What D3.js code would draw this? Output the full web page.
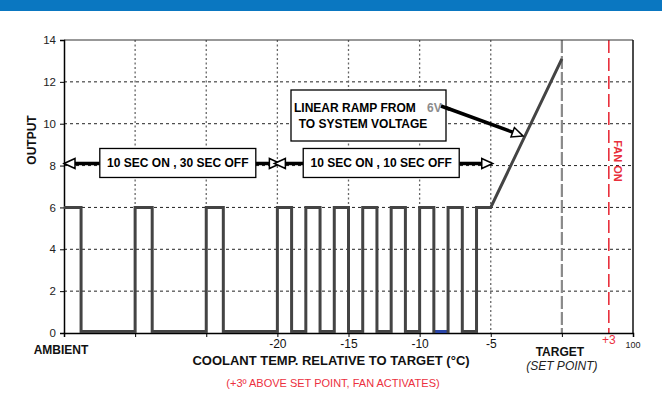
<!DOCTYPE html>
<html>
<head>
<meta charset="utf-8">
<script src="https://cdn.jsdelivr.net/npm/d3@7"></script>
<style>
  html, body { margin: 0; padding: 0; background: #fff; }
  svg { display: block; font-family: Arial, "Liberation Sans", sans-serif; }
</style>
</head>
<body>
<svg id="chart" width="662" height="405"></svg>
<script>
// ---------- data ----------
const yTicks = [0, 2, 4, 6, 8, 10, 12, 14];
const xTicks = [-35, -30, -25, -20, -15, -10, -5, 0, 5];
const xTickLabels = ["", "", "", "-20", "-15", "-10", "-5", "", ""];
const outputLevel = 6;
// 10 s on / 30 s off region
const slowOnStart = [-35, -30, -25];
const slowOnEnd = [-33.8, -28.8, -23.8];
// 10 s on / 10 s off region
const fastOnStart = [-20, -18, -16, -14, -12, -10, -8, -6];
const fastOnEnd = [-19, -17, -15, -13, -11, -9, -7, -5];
// linear ramp
const rampX = [-5, 0];
const rampY = [6, 13.1];
const highlightOff = [-9, -8];       // small blue segment
const targetX = 0;
const fanOnX = 3.3;
const spanArrows = [
  { from: -35, to: -20, y: 8.1, label: "10 SEC ON , 30 SEC OFF", center: -27 },
  { from: -20, to: -5,  y: 8.1, label: "10 SEC ON , 10 SEC OFF", center: -12.7 }
];

// ---------- layout ----------
const svg = d3.select("#chart");
const L = 64, R = 633, T = 40, B = 333;
const x = d3.scaleLinear().domain([-35, 5]).range([L, R]);
const y = d3.scaleLinear().domain([0, 14]).range([B, T]);

// header band
svg.append("rect").attr("x", 0).attr("y", 0).attr("width", 662).attr("height", 11).attr("fill", "#0a77c1");

// horizontal dashed gridlines
svg.append("g").selectAll("line").data(yTicks.filter(d => d > 0 && d < 14)).join("line")
  .attr("x1", L).attr("x2", R).attr("y1", d => y(d)).attr("y2", d => y(d))
  .attr("stroke", "#222").attr("stroke-width", 1).attr("stroke-dasharray", "3,3");

// vertical dotted gridlines
svg.append("g").selectAll("line").data(xTicks.filter(d => d > -35 && d < 0)).join("line")
  .attr("x1", d => x(d)).attr("x2", d => x(d)).attr("y1", T).attr("y2", B)
  .attr("stroke", "#666").attr("stroke-width", 1.3).attr("stroke-dasharray", "2,2.5");

// target line
svg.append("line").attr("x1", x(targetX)).attr("x2", x(targetX)).attr("y1", T).attr("y2", B)
  .attr("stroke", "#8a8a8a").attr("stroke-width", 2.2).attr("stroke-dasharray", "13,3");

// fan-on line
svg.append("line").attr("x1", x(fanOnX)).attr("x2", x(fanOnX)).attr("y1", T).attr("y2", B)
  .attr("stroke", "#e8303c").attr("stroke-width", 1.6).attr("stroke-dasharray", "13,5");

// frame: top and right
svg.append("line").attr("x1", L).attr("x2", R).attr("y1", T).attr("y2", T).attr("stroke", "#333").attr("stroke-width", 1.2);
svg.append("line").attr("x1", R).attr("x2", R).attr("y1", T).attr("y2", B).attr("stroke", "#111").attr("stroke-width", 1.5);

// axes
const yAxis = d3.axisLeft(y).tickValues(yTicks).tickSize(4).tickPadding(4).tickFormat(d3.format("d"));
const gy = svg.append("g").attr("transform", `translate(${L},0)`).call(yAxis);
gy.select(".domain").attr("stroke", "#000").attr("stroke-width", 1.5);
gy.selectAll(".tick line").attr("stroke", "#000");
gy.selectAll("text").attr("font-size", 11.5).attr("fill", "#222").attr("font-family", "Arial, 'Liberation Sans', sans-serif");

const xAxis = d3.axisBottom(x).tickValues(xTicks).tickSize(4).tickPadding(2).tickFormat((d, i) => xTickLabels[i]);
const gx = svg.append("g").attr("transform", `translate(0,${B})`).call(xAxis);
gx.select(".domain").attr("stroke", "#000").attr("stroke-width", 1.5);
gx.selectAll(".tick line").attr("stroke", "#000");
gx.selectAll("text").attr("font-size", 12).attr("fill", "#111").attr("font-family", "Arial, 'Liberation Sans', sans-serif");

// signal path
const pts = [];
slowOnStart.forEach((s, i) => {
  if (i > 0) pts.push([s, 0]);
  pts.push([s, outputLevel], [slowOnEnd[i], outputLevel], [slowOnEnd[i], 0]);
});
fastOnStart.forEach((s, i) => {
  pts.push([s, 0], [s, outputLevel], [fastOnEnd[i], outputLevel]);
  if (i < fastOnStart.length - 1) pts.push([fastOnEnd[i], 0]);
});
pts.push([rampX[0], rampY[0]], [rampX[1], rampY[1]]);
const line = d3.line().x(d => x(d[0])).y(d => y(d[1]) - (d[1] === 0 ? 1.5 : 0));
svg.append("path").attr("d", line(pts)).attr("fill", "none")
  .attr("stroke", "#444").attr("stroke-width", 3).attr("stroke-linejoin", "miter");

// blue segment
svg.append("line").attr("x1", x(highlightOff[0]) + 1.5).attr("x2", x(highlightOff[1]) - 1.5)
  .attr("y1", y(0) - 1.5).attr("y2", y(0) - 1.5).attr("stroke", "#2a45a8").attr("stroke-width", 3);

// ---------- annotations ----------
function arrow(x1, y1, x2, y2) {
  const ang = Math.atan2(y2 - y1, x2 - x1);
  const len = 11, hw = 5;
  const bx = x2 - len * Math.cos(ang), by = y2 - len * Math.sin(ang);
  svg.append("line").attr("x1", x1).attr("y1", y1).attr("x2", bx).attr("y2", by)
    .attr("stroke", "#000").attr("stroke-width", 3.5);
  const px = -Math.sin(ang) * hw, py = Math.cos(ang) * hw;
  svg.append("path")
    .attr("d", `M${x2},${y2}L${bx + px},${by + py}L${bx - px},${by - py}Z`)
    .attr("fill", "#fff").attr("stroke", "#000").attr("stroke-width", 1.5);
}

spanArrows.forEach((a, i) => {
  const cx = x(a.center), cy = y(a.y);
  const w = 156, h = 29;
  const bl = cx - w / 2, br = cx + w / 2;
  const leftTip = i === 0 ? x(a.from) : x(a.from) - 3;
  const rightTip = i === 0 ? x(a.to) + 3 : x(a.to) + 2;
  arrow(bl, cy, leftTip, cy);
  arrow(br, cy, rightTip, cy);
  svg.append("rect").attr("x", bl).attr("y", cy - 15).attr("width", w).attr("height", h)
    .attr("fill", "#fff").attr("stroke", "#000").attr("stroke-width", 1.3);
  svg.append("text").attr("x", cx).attr("y", cy + 4).attr("text-anchor", "middle")
    .attr("font-size", 12).attr("font-weight", "bold").attr("fill", "#000").text(a.label);
});

// ramp annotation
arrow(444, 107, 523, 136);
svg.append("rect").attr("x", 291).attr("y", 90).attr("width", 155).attr("height", 51)
  .attr("fill", "#fff").attr("stroke", "#000").attr("stroke-width", 1.3);
svg.append("text").attr("x", 294).attr("y", 111.5).attr("font-size", 12).attr("font-weight", "bold")
  .text("LINEAR RAMP FROM");
svg.append("text").attr("x", 427).attr("y", 111.5).attr("font-size", 12).attr("font-weight", "bold")
  .attr("fill", "#8c8c8c").text("6V");
svg.append("text").attr("x", 363).attr("y", 127.5).attr("text-anchor", "middle").attr("font-size", 12)
  .attr("font-weight", "bold").text("TO SYSTEM VOLTAGE");
// re-draw arrow start over box edge
svg.append("line").attr("x1", 441).attr("y1", 106).attr("x2", 450).attr("y2", 109.3)
  .attr("stroke", "#000").attr("stroke-width", 3.5);

// texts
svg.append("text").attr("transform", "translate(36,140) rotate(-90)").attr("text-anchor", "middle")
  .attr("font-size", 12).attr("font-weight", "bold").attr("fill", "#111").text("OUTPUT");
svg.append("text").attr("transform", `translate(${x(fanOnX) + 5},161) rotate(90)`).attr("text-anchor", "middle")
  .attr("font-size", 11).attr("font-weight", "bold").attr("fill", "#e8303c").text("FAN ON");
svg.append("text").attr("x", 61).attr("y", 354).attr("text-anchor", "middle").attr("font-size", 12)
  .attr("font-weight", "bold").attr("fill", "#111").text("AMBIENT");
svg.append("text").attr("x", 331).attr("y", 365).attr("text-anchor", "middle").attr("font-size", 13)
  .attr("font-weight", "bold").attr("fill", "#111").text("COOLANT TEMP. RELATIVE TO TARGET (°C)");
svg.append("text").attr("x", 333).attr("y", 387).attr("text-anchor", "middle").attr("font-size", 11)
  .attr("fill", "#ec3040").text("(+3º ABOVE SET POINT, FAN ACTIVATES)");
svg.append("text").attr("x", x(targetX) - 2).attr("y", 356).attr("text-anchor", "middle").attr("font-size", 12)
  .attr("font-weight", "bold").attr("fill", "#111").text("TARGET");
svg.append("text").attr("x", x(targetX)).attr("y", 370).attr("text-anchor", "middle").attr("font-size", 12)
  .attr("font-style", "italic").attr("fill", "#222").text("(SET POINT)");
svg.append("text").attr("x", x(fanOnX)).attr("y", 344).attr("text-anchor", "middle").attr("font-size", 12)
  .attr("fill", "#ec3040").text("+3");
svg.append("text").attr("x", x(5)).attr("y", 348).attr("text-anchor", "middle").attr("font-size", 9)
  .attr("fill", "#222").text("100");
</script>
</body>
</html>
